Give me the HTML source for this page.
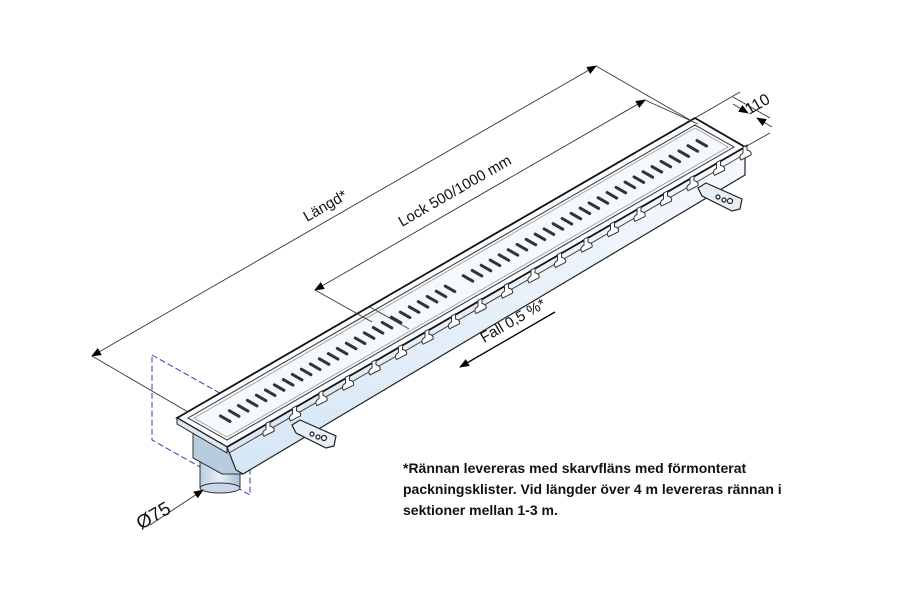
<!DOCTYPE html>
<html><head><meta charset="utf-8"><style>
body{margin:0;background:#fff;width:900px;height:600px;overflow:hidden;position:relative;font-family:"Liberation Sans",sans-serif}
.note{position:absolute;left:403px;top:458px;font-size:14px;font-weight:bold;line-height:21px;color:#111}
</style></head><body>
<svg id="s" width="900" height="600" viewBox="0 0 900 600" style="position:absolute;left:0;top:0">
<defs>
<marker id="a" markerWidth="10" markerHeight="8" refX="9" refY="4" orient="auto-start-reverse" markerUnits="userSpaceOnUse"><path d="M0,0 L10,4 L0,8 z" fill="#000"/></marker>
<linearGradient id="side" x1="0" y1="0" x2="0" y2="1"><stop offset="0" stop-color="#f7fafd"/><stop offset="1" stop-color="#d6e6f5"/></linearGradient>
<linearGradient id="cyl" x1="0" y1="0" x2="1" y2="0"><stop offset="0" stop-color="#b9cde0"/><stop offset="0.5" stop-color="#e8f0f8"/><stop offset="1" stop-color="#a9bdd2"/></linearGradient>
</defs>
<polygon points="152,355 250,410 250,495 152,440" fill="none" stroke="#3a3aa8" stroke-width="1" stroke-dasharray="6,3"/>
<rect x="200" y="460" width="40" height="28" fill="url(#cyl)" stroke="#333"/>
<ellipse cx="220" cy="488" rx="20" ry="5" fill="#c8d8e8" stroke="#333"/>
<polygon points="193,428 243,456 243,474 222,474 193,458" fill="#b8cce0" stroke="#333"/>
<polygon points="227,447 745,147 745,175 243,474 236,470" fill="url(#side)" stroke="#222" stroke-width="1.2"/>
<line x1="229" y1="453" x2="745" y2="154" stroke="#444" stroke-width="1"/>
<polygon points="177,418 695,118 745,147 227,447" fill="#fbfdff" stroke="#111" stroke-width="1.8"/>
<polygon points="177,418 227,447 227,453 177,424" fill="#dde7f0" stroke="#222"/>
<polygon points="188,418 695,125 734,147 227,440" fill="#f6f9fc" stroke="#333" stroke-width="1"/>
<polygon points="194,418 695,128 728,147 227,437" fill="none" stroke="#888" stroke-width="0.7"/>
<line x1="370" y1="307" x2="409" y2="329" stroke="#444" stroke-width="1"/>
<g id="slots" stroke="#333" stroke-width="3" stroke-linecap="round"></g>
<g id="tabs" fill="#fff" stroke="#333" stroke-width="1"></g>
<g fill="#e6eef6" stroke="#222" stroke-width="1.2">
<polygon points="292,425 300,420 336,436 334,446 326,448 296,433"/>
<circle cx="312" cy="434" r="2" fill="#fff"/><circle cx="318" cy="437" r="2" fill="#fff"/><circle cx="324" cy="438" r="2.5" fill="#fff"/>
<polygon points="698,188 706,183 742,199 740,209 732,211 702,196"/>
<circle cx="718" cy="197" r="2" fill="#fff"/><circle cx="724" cy="200" r="2" fill="#fff"/><circle cx="730" cy="201" r="2.5" fill="#fff"/>
</g>
<g stroke="#333" stroke-width="0.9" fill="none">
<line x1="92" y1="356" x2="188" y2="412"/>
<line x1="596" y1="66" x2="690" y2="120"/>
<line x1="92" y1="356" x2="596" y2="66" marker-start="url(#a)" marker-end="url(#a)"/>
<line x1="315" y1="290" x2="372" y2="322"/>
<line x1="645" y1="100" x2="698" y2="124"/>
<line x1="315" y1="290" x2="645" y2="100" marker-start="url(#a)" marker-end="url(#a)"/>
<line x1="695" y1="118" x2="740" y2="92"/>
<line x1="745" y1="147" x2="770" y2="133"/>
<line x1="733" y1="97" x2="770" y2="118"/>
<line x1="733" y1="104" x2="748" y2="113" marker-end="url(#a)"/>
<line x1="772" y1="127" x2="757" y2="118" marker-end="url(#a)"/>
<line x1="555" y1="312" x2="460" y2="367" marker-end="url(#a)" stroke="#000" stroke-width="1.3"/>
<line x1="150" y1="525" x2="203" y2="490" marker-end="url(#a)"/>
</g>
<g font-family="Liberation Sans, sans-serif" font-size="15" fill="#111">
<text transform="translate(307,222) rotate(-30)">Längd*</text>
<text transform="translate(402,227) rotate(-30)">Lock 500/1000 mm</text>
<text transform="translate(484,343) rotate(-30)">Fall 0,5 %*</text>
<text font-size="16" transform="translate(749,115) rotate(-30)">110</text>
<text font-size="19" transform="translate(141,530) rotate(-30)">Ø75</text>
</g>
</svg>
<div class="note">*Rännan levereras med skarvfläns med förmonterat<br>packningsklister. Vid längder över 4 m levereras rännan i<br>sektioner mellan 1-3 m.</div>
<script>
var ns="http://www.w3.org/2000/svg";
var g=document.getElementById('slots');
var P=[188,418],L=[507,-293],W=[40,23];
var N=54;
for(var i=0;i<N;i++){
 if(i==26)continue;
 var t=0.03+i*0.94/(N-1);
 var cx=P[0]+t*L[0]+0.5*W[0]+2, cy=P[1]+t*L[1]+0.5*W[1]-2;
 var l=document.createElementNS(ns,'line');
 l.setAttribute('x1',cx-0.12*W[0]);l.setAttribute('y1',cy-0.12*W[1]);
 l.setAttribute('x2',cx+0.12*W[0]);l.setAttribute('y2',cy+0.12*W[1]);
 g.appendChild(l);
}
var tg=document.getElementById('tabs');
for(var k=0;k<19;k++){
 var x=268+k*26.5, y=447-(x-227)*300/518+6;
 var p=document.createElementNS(ns,'path');
 p.setAttribute('d','M'+(x-2)+','+(y-6)+' l4,-2 l0,5 q5,1 4,5 l-10,5 q-3,-4 2,-7 z');
 tg.appendChild(p);
}
</script>
</body></html>
